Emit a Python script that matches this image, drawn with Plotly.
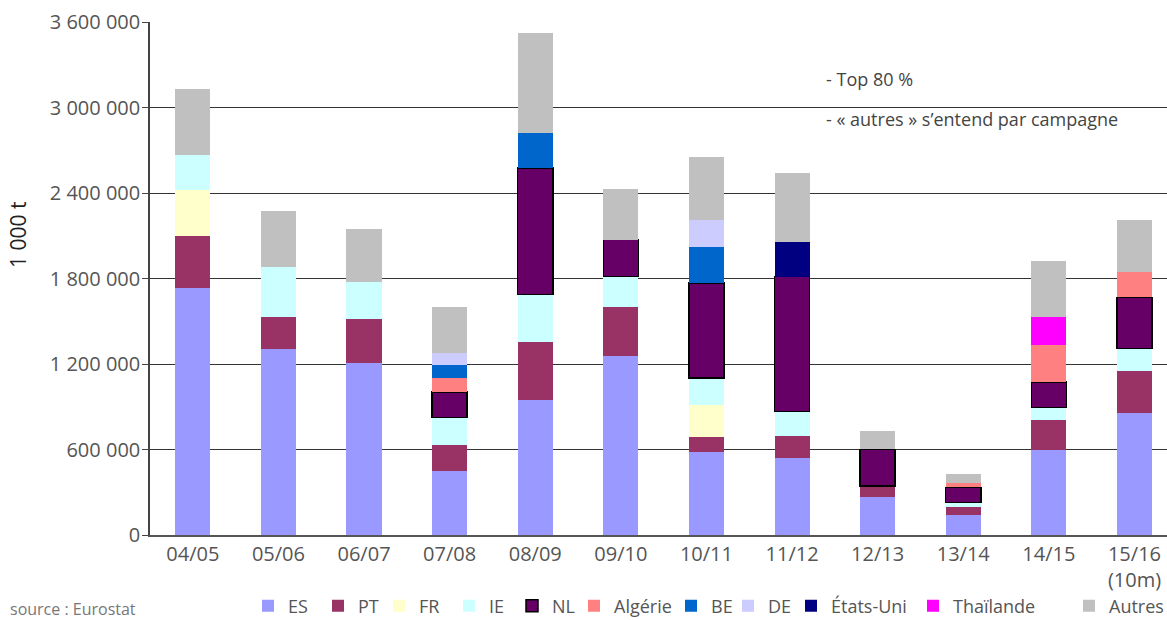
import plotly.graph_objects as go

categories = ["04/05", "05/06", "06/07", "07/08", "08/09", "09/10",
              "10/11", "11/12", "12/13", "13/14", "14/15", "15/16<br>(10m)"]

ES = [1733200, 1302800, 1204600, 446700, 947300, 1253900, 580300, 538200, 264500, 138200, 596700, 856300]
PT = [362500, 224600, 308700, 182500, 404600, 343900, 105300, 154400, 79600, 56200, 208100, 292400]
FR = [322800, None, None, None, None, None, 224500, None, None, None, None, None]
IE = [245600, 350800, 259700, 196500, 334500, 215200, 191800, 173100, None, 35100, 88900, 161400]
NL = [None, None, None, 177700, 888800, 259600, 666600, 947300, 257300, 105200, 180100, 357800]
ALGERIE = [None, None, None, 95900, None, None, None, None, None, 28100, 257300, 177800]
BE = [None, None, None, 91300, 243300, None, 250300, None, None, None, None, None]
DE = [None, None, None, 86500, None, None, 189400, None, None, None, None, None]
ETATS_UNIS = [None, None, None, None, None, None, None, 240900, None, None, None, None]
THAILANDE = [None, None, None, None, None, None, None, None, None, None, 196500, None]
AUTRES = [463100, 393000, 371900, 320400, 701700, 353200, 442100, 484100, 126300, 63100, 392900, 362500]

series_names = ["ES", "PT", "FR", "IE", "NL", "Algérie", "BE", "DE", "États-Uni", "Thaïlande", "Autres"]
series_values = [ES, PT, FR, IE, NL, ALGERIE, BE, DE, ETATS_UNIS, THAILANDE, AUTRES]
series_colors = ["#9999FF", "#993366", "#FFFFCC", "#CCFFFF", "#660066", "#FF8080",
                 "#0066CC", "#CCCCFF", "#000080", "#FF00FF", "#C0C0C0"]

yticks = [0, 600000, 1200000, 1800000, 2400000, 3000000, 3600000]
ytick_text = ["0", "600 000", "1 200 000", "1 800 000", "2 400 000", "3 000 000", "3 600 000"]

# left pixel position of each legend entry (layout only)
legend_px = [248, 318, 379, 449, 512, 574, 671, 728, 791, 913, 1069]

FONT = "Open Sans"
W, H = 1167, 620
fig = go.Figure()
x_idx = list(range(len(categories)))
layout_legends = {}
for i, (name, vals, col) in enumerate(zip(series_names, series_values, series_colors)):
    key = "legend" if i == 0 else f"legend{i + 1}"
    line = dict(color="#000000", width=1.5) if name == "NL" else dict(width=0)
    fig.add_trace(go.Bar(x=x_idx, y=vals, name=name, width=0.41, legend=key,
                         marker=dict(color=col, line=line)))
    layout_legends[key] = dict(xref="container", yref="container",
                               x=legend_px[i] / W, xanchor="left",
                               y=(H - 606) / H, yanchor="middle",
                               orientation="h", bgcolor="rgba(0,0,0,0)",
                               font=dict(family=FONT, size=18, color="#555555"))

fig.update_layout(
    barmode="stack",
    width=W, height=H,
    margin=dict(l=150, r=0, t=22, b=85, autoexpand=False),
    plot_bgcolor="white", paper_bgcolor="white",
    font=dict(family=FONT, size=20, color="#555555"),
    showlegend=True,
    xaxis=dict(tickmode="array", tickvals=x_idx, ticktext=categories,
               range=[-0.5, 11.38], showgrid=False, zeroline=False,
               showline=True, linecolor="#555555", linewidth=1.5, ticks="",
               tickfont=dict(size=20, color="#555555")),
    yaxis=dict(range=[0, 3600000], tickmode="array", tickvals=yticks, ticktext=ytick_text,
               showgrid=True, gridcolor="#333333", gridwidth=1, zeroline=False,
               showline=True, linecolor="#444444", linewidth=1.5,
               ticks="outside", ticklen=6, tickcolor="#444444", ticklabelstandoff=-2,
               tickfont=dict(size=20, color="#555555")),
    **layout_legends,
)

fig.add_annotation(text="1 000 t", xref="paper", yref="paper",
                   x=(18 - 150) / 1017, y=(535 - 235) / 513, textangle=-90,
                   xanchor="center", yanchor="middle",
                   showarrow=False, font=dict(size=21, color="#222222"))
fig.add_annotation(text="- Top 80 %", xref="paper", yref="paper",
                   x=(824 - 150) / 1017, y=(535 - 79) / 513, xanchor="left", yanchor="middle",
                   showarrow=False, font=dict(size=18, color="#444444"))
fig.add_annotation(text="- « autres » s’entend par campagne", xref="paper", yref="paper",
                   x=(824 - 150) / 1017, y=(535 - 119) / 513, xanchor="left", yanchor="middle",
                   showarrow=False, font=dict(size=18, color="#444444"))
fig.add_annotation(text="source : Eurostat", xref="paper", yref="paper",
                   x=(8 - 150) / 1017, y=(535 - 609) / 513, xanchor="left", yanchor="middle",
                   showarrow=False, font=dict(size=16, color="#777777"))

fig.write_html("out.html", post_script="document.body.style.margin='0';",
               config={"displayModeBar": False})
